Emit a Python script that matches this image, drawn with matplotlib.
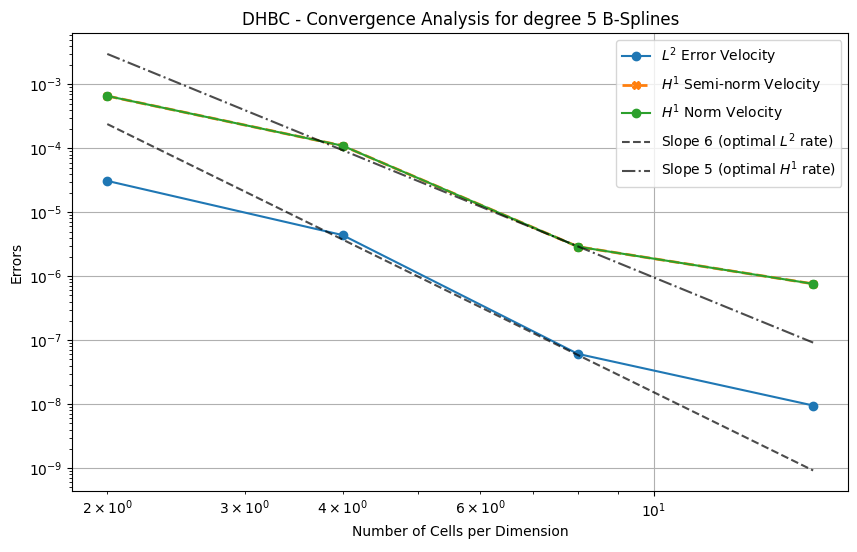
import matplotlib
matplotlib.use("Agg")
import matplotlib.pyplot as plt
import numpy as np

cells = np.array([2, 4, 8, 16])
l2_err = [3.1e-5, 4.4e-6, 6.1e-8, 9.5e-9]
h1_semi = [6.6e-4, 1.1e-4, 2.9e-6, 7.6e-7]
h1_norm = [6.6e-4, 1.1e-4, 2.9e-6, 7.6e-7]
ref6_start = 2.4e-4
ref5_start = 3.0e-3

fig, ax = plt.subplots(figsize=(8.57, 5.52), dpi=100)
ax.loglog(cells, l2_err, 'o-', label=r'$L^2$ Error Velocity')
ax.loglog(cells, h1_semi, 'X--', linewidth=2, label=r'$H^1$ Semi-norm Velocity')
ax.loglog(cells, h1_norm, 'o-', label=r'$H^1$ Norm Velocity')
ax.loglog(cells, ref6_start * (cells / cells[0]) ** -6.0, 'k--', alpha=0.7,
          label=r'Slope 6 (optimal $L^2$ rate)')
ax.loglog(cells, ref5_start * (cells / cells[0]) ** -5.0, 'k-.', alpha=0.7,
          label=r'Slope 5 (optimal $H^1$ rate)')

ax.set_xlabel('Number of Cells per Dimension')
ax.set_ylabel('Errors')
ax.set_title('DHBC - Convergence Analysis for degree 5 B-Splines')
ax.grid(True, which='major')
ax.legend(loc='upper right')
plt.subplots_adjust(left=0.084, right=0.99, top=0.94, bottom=0.11)
plt.savefig('out.png')
